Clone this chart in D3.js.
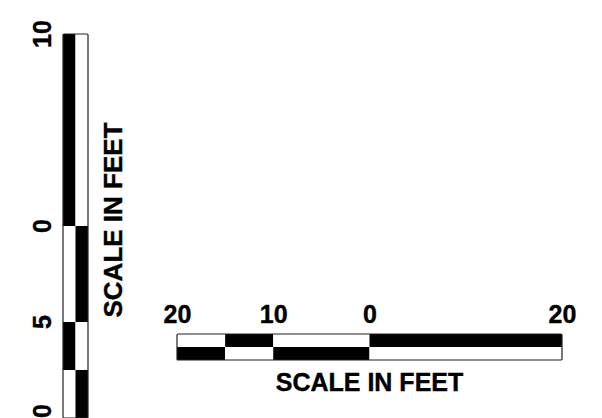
<!DOCTYPE html>
<html>
<head>
<meta charset="utf-8">
<script src="https://cdn.jsdelivr.net/npm/d3@7"></script>
<style>
  body { margin: 0; background: #fff; }
  svg { display: block; }
  .lbl text { font-family: "Liberation Sans", Arial, sans-serif; font-weight: bold; fill: #000; stroke: #000; stroke-width: 0.4; }
</style>
</head>
<body>
<div id="chart"></div>
<script>
// horizontal scale bar (feet)
const hBreaks = [-20, -15, -10, 0, 20]
const hTopDark = [false, true, false, true]
const hTicks = [-20, -10, 0, 20]
const hTickLabels = ['20', '10', '0', '20']

// vertical scale bar (feet, negative = below zero mark)
const vBreaks = [-10, -7.5, -5, 0, 10]
const vLeftDark = [false, true, false, true]
const vTicks = [-10, -5, 0, 10]
const vTickLabels = ['10', '5', '0', '10']

const title = 'SCALE IN FEET'

const width = 602
const height = 418

const svg = d3.select('#chart')
  .append('svg')
  .attr('width', width)
  .attr('height', height)

const fillOf = (dark) => (dark ? '#000' : '#fff')

// ---- horizontal bar
const hx = d3.scaleLinear().domain([-20, 20]).range([177, 562])
const hTop = 334
const hRow = 13

const hSegs = d3.pairs(hBreaks).map(([a, b], i) => ({ a, b, dark: hTopDark[i] }))

const hg = svg.append('g')
;[0, 1].forEach((row) => {
  hg.selectAll(null)
    .data(hSegs)
    .enter()
    .append('rect')
    .attr('x', (d) => hx(d.a))
    .attr('y', hTop + row * hRow)
    .attr('width', (d) => hx(d.b) - hx(d.a))
    .attr('height', hRow)
    .attr('fill', (d) => fillOf(row === 0 ? d.dark : !d.dark))
})
hg.append('rect')
  .attr('x', hx(-20))
  .attr('y', hTop)
  .attr('width', hx(20) - hx(-20))
  .attr('height', hRow * 2)
  .attr('fill', 'none')
  .attr('stroke', '#222')
  .attr('stroke-width', 1.2)
  .attr('rx', 1)

const hAxis = d3.axisTop(hx)
  .tickValues(hTicks)
  .tickFormat((d, i) => hTickLabels[i])
  .tickSize(0)
  .tickPadding(0)

svg.append('g')
  .attr('class', 'lbl')
  .attr('transform', 'translate(0,323)')
  .call(hAxis)
  .call((g) => g.select('.domain').remove())
  .selectAll('text')
  .attr('font-size', 25)
  .attr('dy', 0)

svg.append('g').attr('class', 'lbl')
  .append('text')
  .attr('x', hx(0))
  .attr('y', 391)
  .attr('text-anchor', 'middle')
  .attr('font-size', 25)
  .text(title)

// ---- vertical bar
const vy = d3.scaleLinear().domain([-10, 10]).range([418, 34])
const vLeft = 63
const vCol = 12.5

const vSegs = d3.pairs(vBreaks).map(([a, b], i) => ({ a, b, dark: vLeftDark[i] }))

const vg = svg.append('g')
;[0, 1].forEach((col) => {
  vg.selectAll(null)
    .data(vSegs)
    .enter()
    .append('rect')
    .attr('x', vLeft + col * vCol)
    .attr('y', (d) => vy(d.b))
    .attr('width', vCol)
    .attr('height', (d) => vy(d.a) - vy(d.b))
    .attr('fill', (d) => fillOf(col === 0 ? d.dark : !d.dark))
})
vg.append('rect')
  .attr('x', vLeft)
  .attr('y', vy(10))
  .attr('width', vCol * 2)
  .attr('height', vy(-10) - vy(10))
  .attr('fill', 'none')
  .attr('stroke', '#222')
  .attr('stroke-width', 1.2)
  .attr('rx', 1)

const vLabels = svg.append('g').attr('class', 'lbl')
vLabels.selectAll('text')
  .data(vTicks)
  .enter()
  .append('text')
  .attr('transform', (d) => `translate(51,${vy(d)}) rotate(-90)`)
  .attr('text-anchor', 'middle')
  .attr('font-size', 25)
  .text((d, i) => vTickLabels[i])

vLabels.append('text')
  .attr('transform', `translate(122,${vy(0) - 6}) rotate(-90)`)
  .attr('text-anchor', 'middle')
  .attr('font-size', 26)
  .text(title)
</script>
</body>
</html>
